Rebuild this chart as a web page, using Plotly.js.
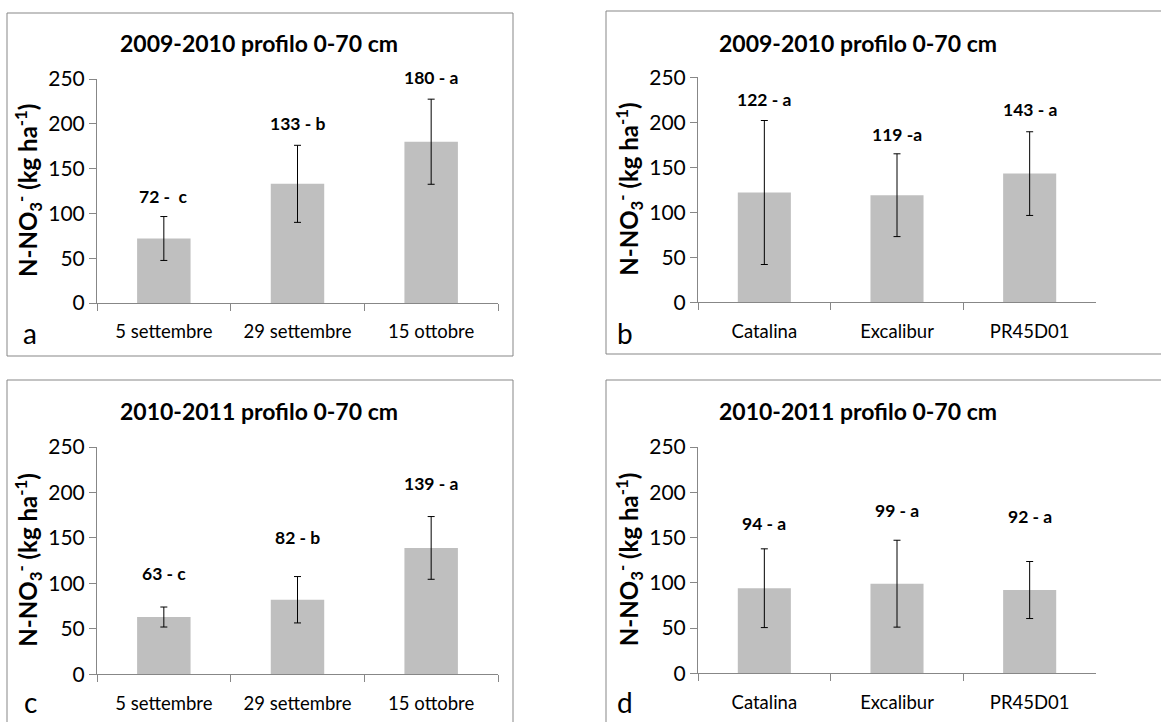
<!DOCTYPE html>
<html>
<head>
<meta charset="utf-8">
<script src="https://cdn.plot.ly/plotly-3.0.1.min.js"></script>
<style>html,body{margin:0;padding:0;background:#fff;}#chart{width:1161px;height:722px;}</style>
</head>
<body>
<div id="chart"></div>
<script>
// ---- data ----
const catsDate = ['5 settembre', '29 settembre', '15 ottobre'];
const catsVar = ['Catalina', 'Excalibur', 'PR45D01'];

const aVals = [72, 133, 180];
const aErr = [24.5, 43, 47.5];
const aLabels = ['72 -\u00a0\u00a0c', '133 - b', '180 - a'];

const bVals = [122, 119, 143];
const bErr = [80, 46, 46.5];
const bLabels = ['122 - a', '119 -a', '143 - a'];

const cVals = [63, 82, 139];
const cErr = [11, 25.5, 34.5];
const cLabels = ['63 - c', '82 - b', '139 - a'];

const dVals = [94, 99, 92];
const dErr = [43.5, 48, 31.5];
const dLabels = ['94 - a', '99 - a', '92 - a'];

const yTicks = [0, 50, 100, 150, 200, 250];
const titles = ['2009-2010 profilo 0-70 cm', '2009-2010 profilo 0-70 cm', '2010-2011 profilo 0-70 cm', '2010-2011 profilo 0-70 cm'];
const panelLetters = ['a', 'b', 'c', 'd'];
const yTitle = 'N-NO<sub>3</sub><sup>-</sup> (kg ha<sup>-1</sup>)';

// ---- layout helpers (positions in pixels of the 1161x722 page) ----
const W = 1161, H = 722;
const px = x => x / W;
const py = y => 1 - y / H;
const FONT = 'Lato, "Open Sans", sans-serif';
const GREY = '#878787';

const panels = [
  {cats: catsDate, vals: aVals, err: aErr, labels: aLabels, labelY: [118.6, 199.8, 252],
   xd: [97, 498], yd: [303, 79], box: [7, 13, 513, 356], titleXY: [259, 43], letterXY: [30, 333]},
  {cats: catsVar, vals: bVals, err: bErr, labels: bLabels, labelY: [224.8, 185.9, 214.4],
   xd: [698, 1096], yd: [302.3, 77.3], box: [606, 11, 1170, 354], titleXY: [858, 43], letterXY: [625, 333]},
  {cats: catsDate, vals: cVals, err: cErr, labels: cLabels, labelY: [111.4, 150.3, 210],
   xd: [97, 498], yd: [674.3, 447], box: [7, 380, 513, 730], titleXY: [259, 411], letterXY: [30, 702]},
  {cats: catsVar, vals: dVals, err: dErr, labels: dLabels, labelY: [165.3, 180.4, 173],
   xd: [698, 1096], yd: [673.3, 447], box: [606, 380, 1170, 730], titleXY: [858, 411], letterXY: [625, 702]}
];

const traces = [];
const layout = {
  width: W, height: H,
  margin: {l: 0, r: 0, t: 0, b: 0},
  paper_bgcolor: '#fff', plot_bgcolor: '#fff',
  showlegend: false,
  bargap: 0.6,
  font: {family: FONT, color: '#000'},
  annotations: [], shapes: []
};

panels.forEach((p, i) => {
  const n = i === 0 ? '' : String(i + 1);
  const xa = 'x' + n, ya = 'y' + n;
  traces.push({
    type: 'bar', x: p.cats, y: p.vals, xaxis: xa, yaxis: ya,
    marker: {color: '#BFBFBF'},
    error_y: {type: 'data', array: p.err, visible: true, color: '#000', thickness: 1, width: 3.5},
    hoverinfo: 'x+y'
  });
  layout['xaxis' + n] = {
    domain: [px(p.xd[0]), px(p.xd[1])], anchor: ya,
    type: 'category', range: [-0.5, 2.5],
    showline: true, linecolor: GREY, linewidth: 1,
    ticks: 'outside', tickson: 'boundaries', ticklen: 7, tickcolor: GREY,
    ticklabelstandoff: 12,
    showgrid: false, zeroline: false,
    tickfont: {family: FONT, size: 18.5, color: '#000'}
  };
  layout['yaxis' + n] = {
    domain: [py(p.yd[0]), py(p.yd[1])], anchor: xa,
    range: [0, 250], tickvals: yTicks,
    showline: true, linecolor: GREY, linewidth: 1,
    ticks: 'outside', ticklen: 7, tickcolor: GREY,
    showgrid: false, zeroline: false,
    tickfont: {family: FONT, size: 21, color: '#000'}
  };
  // box
  layout.shapes.push({type: 'rect', xref: 'paper', yref: 'paper',
    x0: px(p.box[0]), x1: px(p.box[2]), y0: py(p.box[3]), y1: py(p.box[1]),
    line: {color: GREY, width: 1}, fillcolor: 'rgba(0,0,0,0)'});
  // title
  layout.annotations.push({xref: 'paper', yref: 'paper', x: px(p.titleXY[0]), y: py(p.titleXY[1]),
    xanchor: 'center', yanchor: 'middle', showarrow: false, text: '<b>' + titles[i] + '</b>',
    font: {family: FONT, size: 23, color: '#000'}});
  // letter
  layout.annotations.push({xref: 'paper', yref: 'paper', x: px(p.letterXY[0]), y: py(p.letterXY[1]),
    xanchor: 'center', yanchor: 'middle', showarrow: false, text: panelLetters[i],
    font: {family: FONT, size: 28, color: '#000'}});
  // y title
  layout.annotations.push({xref: 'paper', yref: 'paper', x: px(p.xd[0] - 69), y: py((p.yd[0] + p.yd[1]) / 2),
    xanchor: 'center', yanchor: 'middle', showarrow: false, textangle: -90, text: '<b>' + yTitle + '</b>',
    font: {family: FONT, size: 24, color: '#000'}});
  // value labels (y given in data units, converted to page position so labels above 250 stay visible)
  p.labels.forEach((t, k) => {
    const yPix = p.yd[0] - (p.yd[0] - p.yd[1]) * p.labelY[k] / 250;
    layout.annotations.push({xref: xa, yref: 'paper', x: p.cats[k], y: py(yPix),
      xanchor: 'center', yanchor: 'middle', showarrow: false, text: '<b>' + t + '</b>',
      font: {family: FONT, size: 17.5, color: '#000'}});
  });
});

Plotly.newPlot('chart', traces, layout, {displayModeBar: false, staticPlot: true});
</script>
</body>
</html>
